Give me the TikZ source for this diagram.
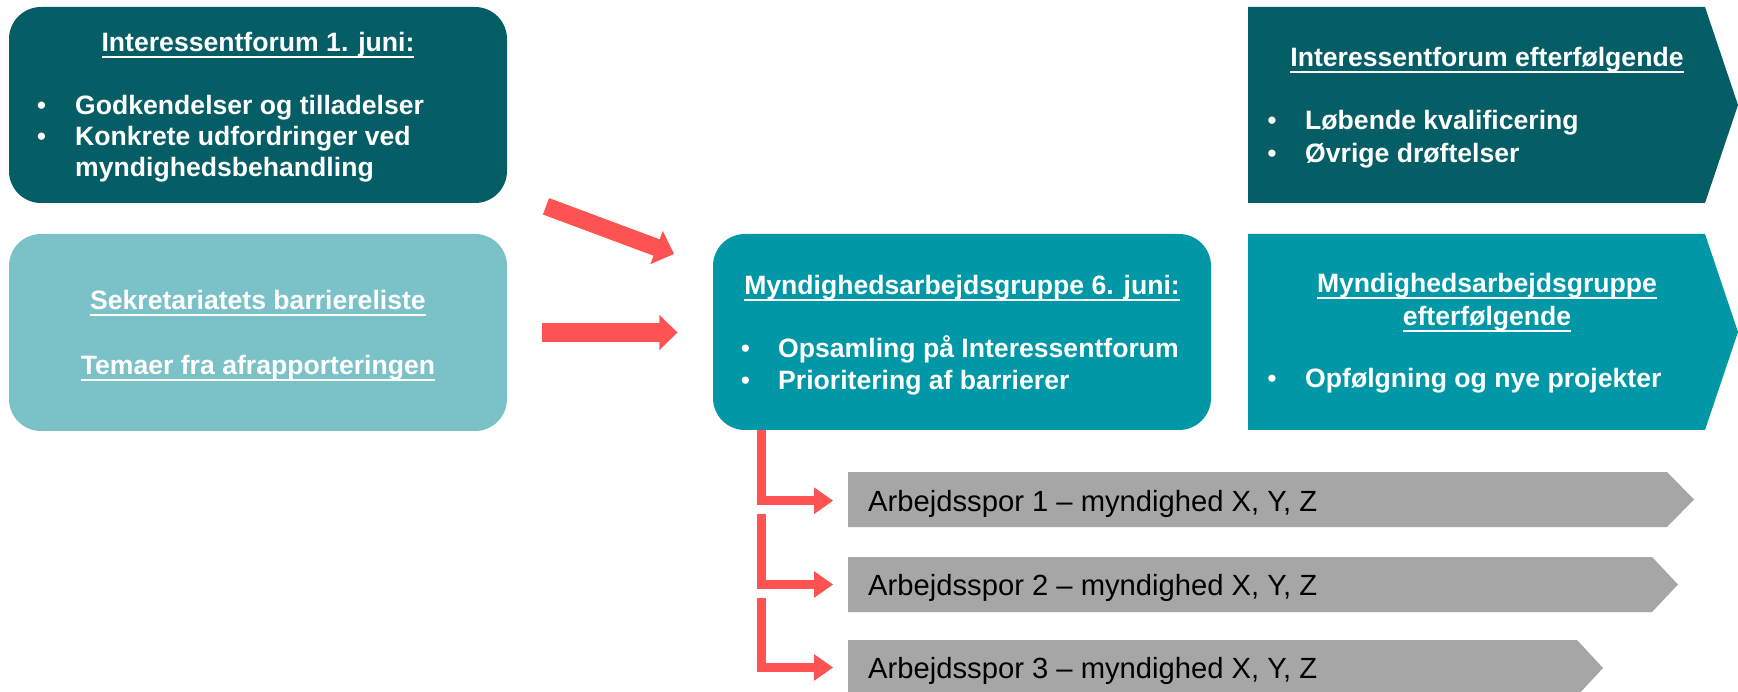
\documentclass[tikz,border=0pt]{standalone}
\usepackage{fontspec}
\setmainfont{Liberation Sans}
\usetikzlibrary{calc}
\definecolor{tdark}{RGB}{5,94,101}
\definecolor{tlight}{RGB}{122,193,200}
\definecolor{tmid}{RGB}{0,151,167}
\definecolor{ared}{RGB}{255,82,82}
\definecolor{bgray}{RGB}{166,166,166}
\newsavebox\ulbox
\newcommand\ulx[1]{\sbox\ulbox{#1}\rlap{\vrule height -3.8pt depth 6pt width \wd\ulbox}\usebox\ulbox}
\newcommand\blockhead[4]{%
  \coordinate (hbase) at ($(#2)!#4!(#1)$);
  \fill[ared] (#2) -- ($(hbase)!#3!90:(#2)$) -- ($(hbase)!#3!-90:(#2)$) -- cycle;}
\begin{document}
\begin{tikzpicture}[x=1pt,y=-1pt,
  rbox/.style={rounded corners=32pt, inner sep=0pt, outer sep=0pt, anchor=north west, draw=none},
  ttl/.style={font=\bfseries\fontsize{26.6pt}{31pt}\selectfont, text=white, inner sep=0pt, anchor=base},
  itm/.style={font=\bfseries\fontsize{26.6pt}{31pt}\selectfont, text=white, inner sep=0pt, anchor=base west},
  dot/.style={font=\normalfont\fontsize{26.6pt}{31pt}\selectfont, text=white, inner sep=0pt, anchor=base},
  bartxt/.style={font=\fontsize{29.2pt}{34pt}\selectfont, text=black, inner sep=0pt, anchor=base west},
  shaft/.style={draw=ared, line width=#1}]
\useasboundingbox (0,0) rectangle (1738,692);
\fill[white] (0,0) rectangle (1738,692);

% rounded boxes
\node[rbox, fill=tdark, minimum width=498pt, minimum height=196pt] (b1) at (9,7) {};
\node[rbox, fill=tlight, minimum width=498pt, minimum height=197pt] (b2) at (9,234) {};
\node[rbox, fill=tmid, minimum width=498pt, minimum height=196pt] (b3) at (713,234) {};

% chevrons
\fill[tdark] (1248,7) -- (1705,7) -- (1738,105) -- (1705,203) -- (1248,203) -- cycle;
\fill[tmid] (1248,234) -- (1705,234) -- (1738,332) -- (1705,430) -- (1248,430) -- cycle;
\fill[bgray] (848,472) -- (1667,472) -- (1694,499.5) -- (1667,527) -- (848,527) -- cycle;
\fill[bgray] (848,557) -- (1652,557) -- (1678,584.5) -- (1652,612) -- (848,612) -- cycle;
\fill[bgray] (848,640) -- (1577,640) -- (1603,668) -- (1577,696) -- (848,696) -- cycle;

% box 1 text
\node[ttl] (t1) at (258,52) {\ulx{Interessentforum 1. juni:}};
\node[dot] (t1d1) at (41.5,115) {•};
\node[itm] (t1a) at (75,115) {Godkendelser og tilladelser};
\node[dot] (t1d2) at (41.5,146) {•};
\node[itm] (t1b) at (75,146) {Konkrete udfordringer ved};
\node[itm] (t1c) at (75,177) {myndighedsbehandling};

% box 2 text
\node[ttl] (t2a) at (258,310) {\ulx{Sekretariatets barriereliste}};
\node[ttl] (t2b) at (258,375) {\ulx{Temaer fra afrapporteringen}};

% centre box text
\node[ttl] (t3) at (962,295) {\ulx{Myndighedsarbejdsgruppe 6. juni:}};
\node[dot] (t3d1) at (745.5,358) {•};
\node[itm] (t3a) at (778,358) {Opsamling på Interessentforum};
\node[dot] (t3d2) at (745.5,390) {•};
\node[itm] (t3b) at (778,390) {Prioritering af barrierer};

% chevron 1 text
\node[ttl] (t4) at (1487,67) {\ulx{Interessentforum efterfølgende}};
\node[dot] (t4d1) at (1272,130) {•};
\node[itm] (t4a) at (1305,130) {Løbende kvalificering};
\node[dot] (t4d2) at (1272,163) {•};
\node[itm] (t4b) at (1305,163) {Øvrige drøftelser};

% chevron 2 text
\node[ttl] (t5a) at (1487,293) {\ulx{Myndighedsarbejdsgruppe}};
\node[ttl] (t5b) at (1487,326) {\ulx{efterfølgende}};
\node[dot] (t5d1) at (1272,388) {•};
\node[itm] (t5c) at (1305,388) {Opfølgning og nye projekter};

% grey bars text
\node[bartxt] (s1) at (868,511) {Arbejdsspor 1 – myndighed X, Y, Z};
\node[bartxt] (s2) at (868,595) {Arbejdsspor 2 – myndighed X, Y, Z};
\node[bartxt] (s3) at (868,678) {Arbejdsspor 3 – myndighed X, Y, Z};

% straight block arrows
\coordinate (aA0) at (546,206.3);
\coordinate (aA1) at (674,254);
\coordinate (aB0) at (541.7,332.5);
\coordinate (aB1) at (677.3,332.5);
\draw[shaft=17.5pt] (aA0) -- ($(aA1)!17.5pt!(aA0)$);
\blockhead{aA0}{aA1}{17.75pt}{18.6pt}
\draw[shaft=18.3pt] (aB0) -- ($(aB1)!17pt!(aB0)$);
\blockhead{aB0}{aB1}{17.85pt}{18pt}

% elbow arrows
\coordinate (e1s) at ($(b3.south west)+(48.5,0)$);
\coordinate (e1b) at (814,500.7);
\coordinate (e1t) at (833,500.7);
\coordinate (e2s) at (761.5,514);
\coordinate (e2b) at (814,584.5);
\coordinate (e2t) at (833,584.5);
\coordinate (e3s) at (761.5,598);
\coordinate (e3b) at (814,667.5);
\coordinate (e3t) at (833,667.5);
\draw[shaft=9pt] (e1s) |- ($(e1b)+(1,0)$);
\blockhead{e1b}{e1t}{13.4pt}{19pt}
\draw[shaft=9pt] (e2s) |- ($(e2b)+(1,0)$);
\blockhead{e2b}{e2t}{13.4pt}{19pt}
\draw[shaft=9pt] (e3s) |- ($(e3b)+(1,0)$);
\blockhead{e3b}{e3t}{13.4pt}{19pt}
\end{tikzpicture}
\end{document}
